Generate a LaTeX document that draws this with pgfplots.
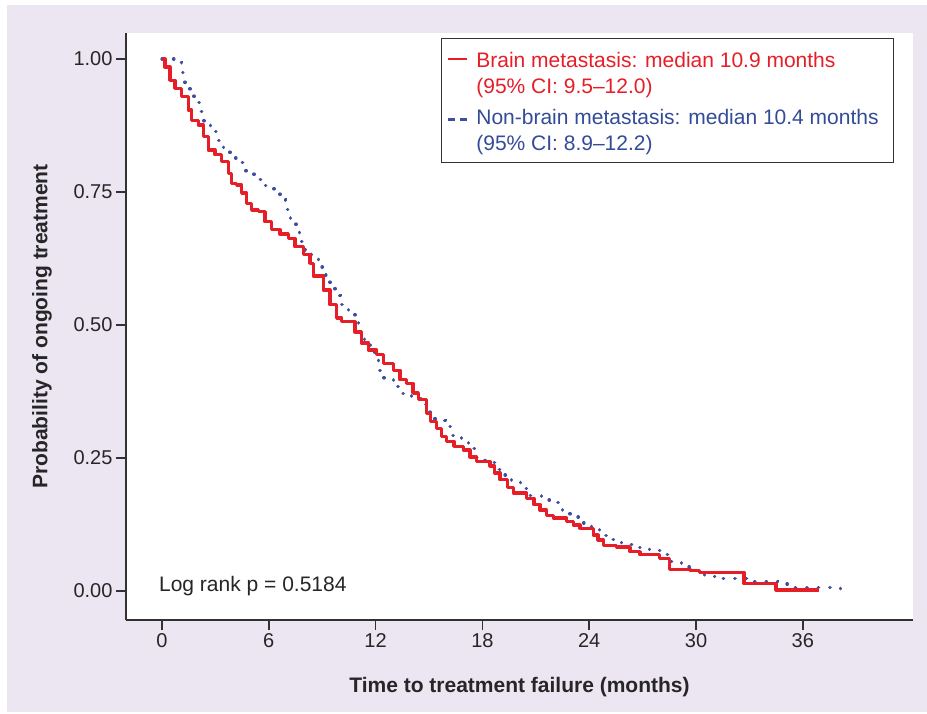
\documentclass[border=0pt]{standalone}
\usepackage{fontspec}
\setmainfont{Liberation Sans}
\usepackage{pgfplots}
\pgfplotsset{compat=1.18}
\definecolor{kmred}{RGB}{230,30,40}
\definecolor{kmblue}{RGB}{62,78,160}
\definecolor{txtblue}{RGB}{52,76,152}
\definecolor{lav}{RGB}{236,229,242}
\definecolor{axgray}{RGB}{50,50,50}
\begin{document}
\begin{tikzpicture}[x=1pt,y=1pt]
\path[use as bounding box, fill=white] (-126,-93) rectangle (801,620);
\fill[lav] (-119,-92) rectangle (801,615);
\begin{axis}[
  at={(0,0)}, anchor=south west,
  scale only axis, width=787pt, height=587pt,
  xmin=-2.02, xmax=42.19, ymin=-0.0545, ymax=1.0489,
  axis background/.style={fill=white},
  axis lines*=left,
  axis line style={axgray, line width=1.3pt},
  tick align=outside,
  major tick length=10pt,
  tick style={axgray, line width=1.5pt},
  xtick={0,6,12,18,24,30,36},
  xticklabels={0,6,12,18,24,30,36},
  ytick={0,0.25,0.5,0.75,1},
  yticklabels={0.00,0.25,0.50,0.75,1.00},
  ticklabel style={font=\fontsize{20}{24}\selectfont, text=black!85},
  xlabel={Time to treatment failure (months)},
  ylabel={Probability of ongoing treatment},
  every axis x label/.style={at={(axis description cs:0.5,-0.1141)}, anchor=center, font=\fontsize{21}{25}\selectfont\bfseries, text=black!85},
  every axis y label/.style={at={(axis description cs:-0.1067,0.5)}, rotate=90, anchor=center, font=\fontsize{21}{25}\selectfont\bfseries, text=black!85},
  legend style={at={(0.976,0.991)}, anchor=north east, draw=axgray, line width=0.9pt, fill=white,
    font=\fontsize{21}{25}\selectfont, inner xsep=5pt, inner ysep=4pt, row sep=0pt, column sep=6pt,
    cells={anchor=west},
    nodes={text height=15pt, text depth=5pt, inner ysep=3pt}},
  legend image code/.code={\draw[#1] (0pt,0pt) -- (19pt,0pt);},
  clip=false,
]
\addlegendimage{kmred, line width=2.5pt}
\addlegendentry[text height=22pt]{\textcolor{kmred}{Brain metastasis: median 10.9 months}}
\addlegendimage{empty legend}
\addlegendentry[text depth=10pt]{\textcolor{kmred}{(95\% CI: 9.5–12.0)}}
\addlegendimage{kmblue, line width=2.5pt, dash pattern=on 7pt off 5pt}
\addlegendentry{\textcolor{txtblue}{Non-brain metastasis: median 10.4 months}\rule{8pt}{0pt}}
\addlegendimage{empty legend}
\addlegendentry{\textcolor{txtblue}{(95\% CI: 8.9–12.2)}}

% Non-brain metastasis
\addplot[forget plot, const plot mark left, kmblue, line width=3.2pt, line cap=round, dash pattern=on 0.5pt off 11pt] table {
t s
0 1.0
0.79 0.993
1.1 0.974
1.29 0.955
1.57 0.937
1.8 0.918
2.17 0.901
2.36 0.880
2.74 0.863
3.09 0.847
3.45 0.830
3.82 0.814
4.33 0.805
4.72 0.788
5.17 0.774
5.67 0.762
6.29 0.752
6.63 0.735
6.95 0.717
7.23 0.699
7.53 0.680
7.71 0.657
8.03 0.641
8.41 0.625
8.78 0.609
9.2 0.594
9.44 0.575
9.72 0.556
10.0 0.538
10.47 0.523
10.84 0.506
11.03 0.487
11.4 0.472
11.72 0.456
11.97 0.434
12.15 0.415
12.47 0.398
12.99 0.384
13.37 0.372
14.03 0.362
14.59 0.350
15.06 0.334
15.34 0.321
15.9 0.309
16.28 0.293
16.84 0.284
17.21 0.268
17.58 0.251
18.15 0.241
18.71 0.229
19.08 0.218
19.65 0.205
20.15 0.193
20.67 0.179
21.33 0.171
22.02 0.166
22.49 0.151
22.92 0.139
23.58 0.128
24.14 0.118
24.6 0.105
25.26 0.097
25.82 0.088
26.67 0.082
27.38 0.076
28.03 0.069
28.6 0.055
29.2 0.045
29.89 0.038
30.47 0.028
31.2 0.023
32.9 0.017
34.6 0.013
35.4 0.007
38.1 0.002
};

% Brain metastasis
\addplot[forget plot, const plot mark left, kmred, line width=3.3pt, line join=round] table {
t s
0 1.0
0.17 0.985
0.45 0.96
0.73 0.945
1.1 0.929
1.48 0.904
1.67 0.885
2.04 0.876
2.32 0.854
2.6 0.829
2.98 0.820
3.35 0.807
3.72 0.785
3.92 0.766
4.2 0.763
4.48 0.748
4.76 0.729
5.04 0.716
5.41 0.713
5.79 0.694
6.16 0.679
6.63 0.671
7.1 0.663
7.47 0.647
7.94 0.632
8.31 0.616
8.5 0.592
9.06 0.566
9.44 0.538
9.81 0.513
10.1 0.506
10.84 0.487
11.2 0.466
11.6 0.453
12.06 0.444
12.43 0.428
13.0 0.415
13.37 0.397
13.75 0.390
14.1 0.372
14.4 0.360
14.87 0.334
15.1 0.318
15.43 0.305
15.7 0.290
16.0 0.281
16.4 0.272
16.93 0.265
17.3 0.252
17.68 0.243
18.43 0.235
18.7 0.222
18.99 0.209
19.4 0.195
19.74 0.184
20.49 0.174
20.9 0.162
21.24 0.152
21.6 0.142
21.98 0.137
22.73 0.130
23.1 0.124
23.48 0.118
24.23 0.105
24.5 0.096
24.8 0.086
25.55 0.083
26.3 0.074
26.85 0.068
27.96 0.061
28.5 0.041
29.66 0.039
30.2 0.035
32.7 0.014
34.5 0.002
36.9 0.002
};

\node[anchor=base west, inner sep=0pt, font=\fontsize{21}{25}\selectfont, text=black!85] at (axis cs:-0.17,0) {Log rank p = 0.5184};
\end{axis}
\end{tikzpicture}
\end{document}
